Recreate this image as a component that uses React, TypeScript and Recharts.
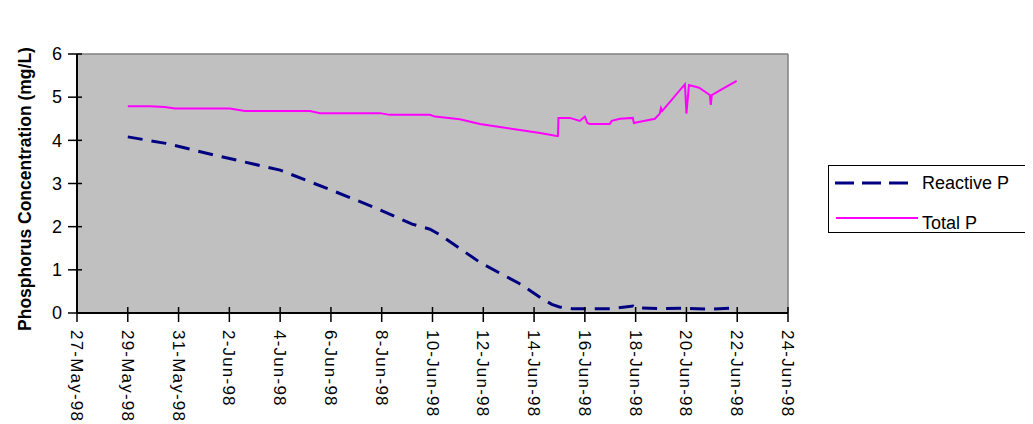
import React from 'react';
import { LineChart, Line, XAxis, YAxis, CartesianGrid, ReferenceLine } from 'recharts';

// x values are days since 27-May-98
const tickDays = [0, 2, 4, 6, 8, 10, 12, 14, 16, 18, 20, 22, 24, 26, 28];
const tickLabels = [
  '27-May-98', '29-May-98', '31-May-98', '2-Jun-98', '4-Jun-98', '6-Jun-98', '8-Jun-98',
  '10-Jun-98', '12-Jun-98', '14-Jun-98', '16-Jun-98', '18-Jun-98', '20-Jun-98', '22-Jun-98', '24-Jun-98',
];
const yTicks = [0, 1, 2, 3, 4, 5, 6];

const reactiveDays = [2, 3.5, 5.4, 8, 10, 11.65, 13.2, 13.9, 14.3, 15.9, 17.4, 18.35, 18.7, 19, 19.5, 21, 21.9, 22, 23, 24, 25, 26];
const reactiveVals = [4.08, 3.93, 3.66, 3.31, 2.85, 2.46, 2.06, 1.94, 1.81, 1.16, 0.69, 0.32, 0.2, 0.14, 0.1, 0.1, 0.16, 0.12, 0.1, 0.11, 0.09, 0.12];

const totalDays = [
  2, 2.87, 3.46, 3.86, 6.02, 6.61, 9.17, 9.57, 11.93, 12.32, 13.9, 14.1, 15.08, 15.87, 16.65, 17.44, 18.23,
  18.9, 18.94, 18.96, 19.41, 19.8, 20.0, 20.1, 20.2, 20.98, 21.06, 21.38, 21.89, 21.93, 22.17, 22.76, 22.95,
  23.0, 23.05, 23.94, 24.0, 24.1, 24.5, 24.92, 24.96, 25.0, 25.3, 25.98,
];
const totalVals = [
  4.79, 4.79, 4.77, 4.74, 4.74, 4.68, 4.68, 4.63, 4.63, 4.59, 4.59, 4.55, 4.49, 4.38, 4.31, 4.24, 4.17,
  4.1, 4.1, 4.52, 4.52, 4.45, 4.55, 4.4, 4.38, 4.38, 4.45, 4.5, 4.52, 4.4, 4.43, 4.5, 4.62,
  4.75, 4.68, 5.3, 4.62, 5.28, 5.22, 5.05, 4.82, 5.05, 5.15, 5.38,
];

const reactiveData = reactiveDays.map((d, i) => ({ day: d, value: reactiveVals[i] }));
const totalData = totalDays.map((d, i) => ({ day: d, value: totalVals[i] }));

const FONT = '"Liberation Sans", Arial, sans-serif';

const XTick = ({ x, y, payload }: any) => {
  const idx = tickDays.indexOf(payload.value);
  return (
    <g>
      <line x1={x} y1={y - 6} x2={x} y2={y + 9} stroke="#000" strokeWidth={1.5} />
      <text
        transform={`translate(${x},${y + 17}) rotate(90)`}
        textAnchor="start"
        dy="0.35em"
        fontSize={17}
        letterSpacing={1.2}
        fontFamily={FONT}
        fill="#000"
      >
        {tickLabels[idx]}
      </text>
    </g>
  );
};

const YTick = ({ x, y, payload }: any) => (
  <g>
    <line x1={x - 9} y1={y} x2={x + 5} y2={y} stroke="#000" strokeWidth={1.5} />
    <text x={x - 15} y={y} dy="0.35em" textAnchor="end" fontSize={18} fontFamily={FONT} fill="#000">
      {payload.value}
    </text>
  </g>
);

export default function App() {
  return (
    <div style={{ position: 'relative', width: 1017, height: 416, fontFamily: FONT }}>
      <LineChart width={1017} height={416} margin={{ top: 46, right: 237, left: 24, bottom: 0 }}>
        <CartesianGrid fill="#C0C0C0" horizontal={false} vertical={false} />
        <XAxis
          type="number"
          dataKey="day"
          domain={[0, 28]}
          ticks={tickDays}
          interval={0}
          height={111}
          tickSize={0}
          tickMargin={0}
          tick={<XTick />}
          axisLine={{ stroke: '#000', strokeWidth: 2 }}
          allowDataOverflow
        />
        <YAxis
          type="number"
          domain={[0, 6]}
          ticks={yTicks}
          width={45}
          tickSize={0}
          tickMargin={0}
          tick={<YTick />}
          axisLine={{ stroke: '#000', strokeWidth: 2 }}
        />
        <ReferenceLine y={6} stroke="#808080" strokeWidth={1.5} />
        <ReferenceLine x={28} stroke="#808080" strokeWidth={1.5} />
        <Line
          data={reactiveData}
          dataKey="value"
          name="Reactive P"
          type="linear"
          stroke="#000080"
          strokeWidth={3}
          strokeDasharray="15 9"
          dot={false}
          isAnimationActive={false}
        />
        <Line
          data={totalData}
          dataKey="value"
          name="Total P"
          type="linear"
          stroke="#FF00FF"
          strokeWidth={2}
          dot={false}
          isAnimationActive={false}
        />
      </LineChart>
      <svg style={{ position: 'absolute', left: 0, top: 0 }} width={40} height={416}>
        <text
          transform="translate(17,181) rotate(-90)"
          textAnchor="middle"
          dy="0.35em"
          fontSize={17.5}
          fontWeight="bold"
          fontFamily={FONT}
          fill="#000"
        >
          Phosphorus Concentration (mg/L)
        </text>
      </svg>
      <div
        style={{
          position: 'absolute',
          left: 820,
          top: 157,
          width: 202,
          height: 66,
          border: '1.5px solid #000',
          overflow: 'hidden',
          background: '#fff',
        }}
      >
        <svg width={202} height={66} style={{ position: 'absolute', left: 0, top: 0 }}>
          <line x1={6} y1={17} x2={80} y2={17} stroke="#000080" strokeWidth={3} strokeDasharray="19 8" />
          <line x1={7} y1={52} x2={89} y2={52} stroke="#FF00FF" strokeWidth={2} />
          <text x={93} y={17} dy="0.35em" fontSize={18} fontFamily={FONT} fill="#000">Reactive P</text>
          <text x={93} y={57} dy="0.35em" fontSize={18} fontFamily={FONT} fill="#000">Total P</text>
        </svg>
      </div>
    </div>
  );
}
